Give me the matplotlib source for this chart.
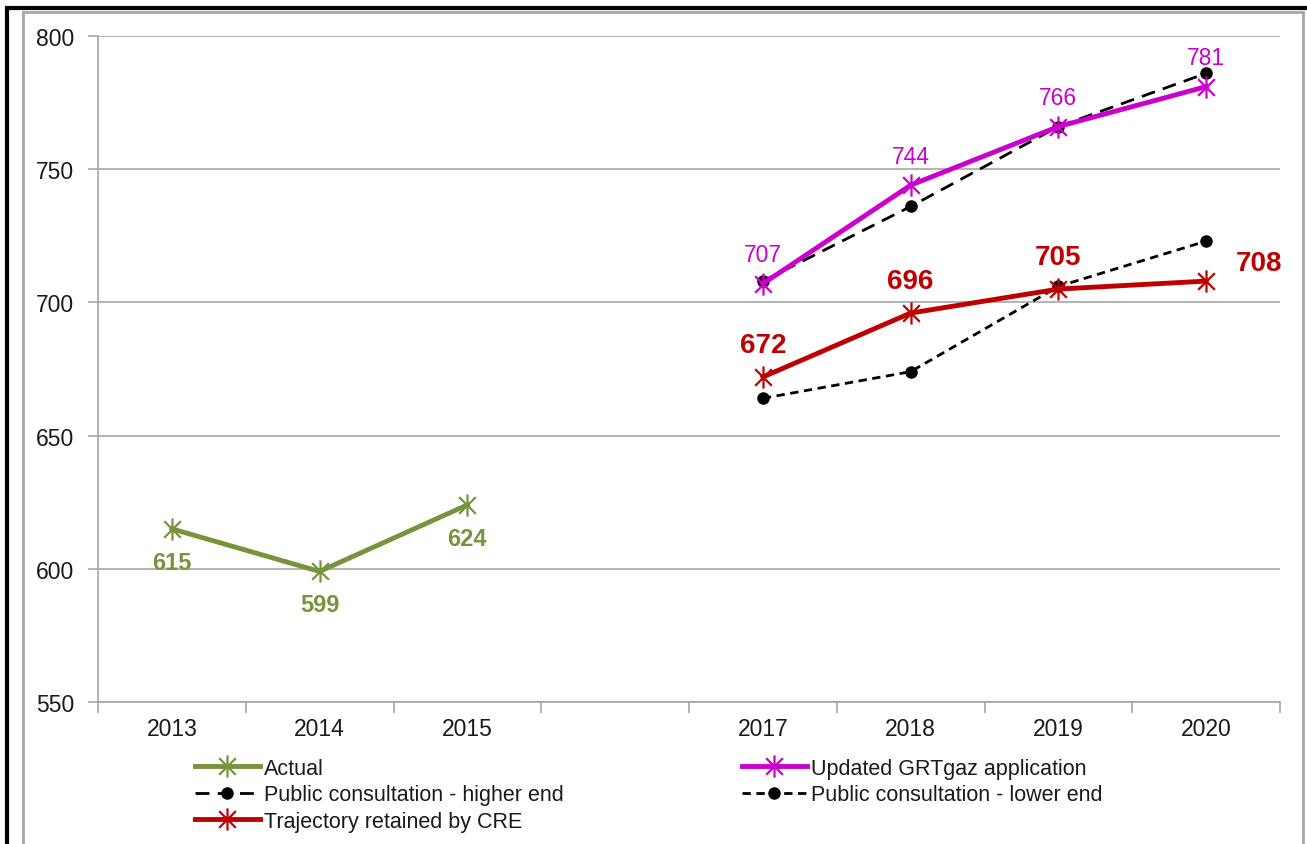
import numpy as np
import matplotlib.pyplot as plt
from matplotlib.path import Path
from matplotlib.patches import Rectangle

# categories (2016 slot left empty)
years = ['2013', '2014', '2015', '', '2017', '2018', '2019', '2020']
actual = [615, 599, 624]
grtgaz = [707, 744, 766, 781]
higher_end = [708, 736, 766, 786]
lower_end = [664, 674, 706, 723]
cre = [672, 696, 705, 708]

plt.rcParams['font.family'] = ['Liberation Sans', 'DejaVu Sans']

W, H = 1307, 845
fig = plt.figure(figsize=(W / 100, H / 100), dpi=100)
ax = fig.add_axes([98 / W, 1 - 703 / H, (1280 - 98) / W, (703 - 37) / H])

# Excel-like star marker: vertical bar + X
star = Path([(0, -1), (0, 1), (-0.75, -0.75), (0.75, 0.75), (-0.75, 0.75), (0.75, -0.75)],
            [Path.MOVETO, Path.LINETO, Path.MOVETO, Path.LINETO, Path.MOVETO, Path.LINETO])

x_act = np.arange(3)
x_fut = np.arange(4, 8)

green = '#77933c'
magenta = '#cc00cc'
red = '#c00000'

h_act, = ax.plot(x_act, actual, color=green, lw=3.5, marker=star, ms=16, mew=1.6,
                 mec=green, label='Actual', zorder=3)
h_hi, = ax.plot(x_fut, higher_end, color='black', lw=2, ls=(0, (5, 3)), marker='o', ms=8,
                label='Public consultation - higher end', zorder=3)
h_cre, = ax.plot(x_fut, cre, color=red, lw=3.5, marker=star, ms=16, mew=1.6,
                 mec=red, label='Trajectory retained by CRE', zorder=4)
h_grt, = ax.plot(x_fut, grtgaz, color=magenta, lw=3.5, marker=star, ms=16, mew=1.6,
                 mec=magenta, label='Updated GRTgaz application', zorder=4)
h_lo, = ax.plot(x_fut, lower_end, color='black', lw=2, ls=(0, (3, 2)), marker='o', ms=8,
                label='Public consultation - lower end', zorder=3)

# data labels
for x, v in zip(x_act, actual):
    ax.annotate(str(v), (x, v), xytext=(0, -24), textcoords='offset points',
                ha='center', va='center', color=green, fontsize=17, fontweight='bold')
for x, v in zip(x_fut, grtgaz):
    ax.annotate(str(v), (x, v), xytext=(0, 21), textcoords='offset points',
                ha='center', va='center', color=magenta, fontsize=16.5)
for i, (x, v) in enumerate(zip(x_fut, cre)):
    off = (38, 13) if i == 3 else (0, 23)
    ax.annotate(str(v), (x, v), xytext=off, textcoords='offset points',
                ha='center', va='center', color=red, fontsize=20, fontweight='bold')

ax.set_xlim(-0.5, 7.5)
ax.set_ylim(550, 800)
ax.set_yticks(np.arange(550, 801, 50))
ax.set_xticks(np.arange(8))
ax.set_xticklabels(years)
ax.set_xticks(np.arange(-0.5, 7.6, 1), minor=True)
ax.tick_params(axis='x', which='major', length=0, pad=11, labelsize=16.5, labelcolor='#1a1a1a')
ax.tick_params(axis='x', which='minor', length=8, color='#a6a6a6', width=1.2)
ax.tick_params(axis='y', length=7, color='#a6a6a6', width=1.2, pad=10,
               labelsize=16.5, labelcolor='#1a1a1a')
ax.grid(axis='y', color='#a6a6a6', lw=1.2)
ax.set_axisbelow(True)
for s in ['top', 'right']:
    ax.spines[s].set_visible(False)
for s in ['left', 'bottom']:
    ax.spines[s].set_color('#a6a6a6')
    ax.spines[s].set_linewidth(1.2)

# legend as two columns placed like the original
kw = dict(loc='upper left', frameon=False, handlelength=3.0, handletextpad=0.2,
          labelspacing=0.25, borderaxespad=0, borderpad=0,
          prop={'family': ['Liberation Sans Narrow', 'Liberation Sans'], 'size': 15.5})
leg1 = fig.legend([h_act, h_hi, h_cre], [h.get_label() for h in (h_act, h_hi, h_cre)],
                  bbox_to_anchor=(195 / W, 1 - 759 / H), **kw)
leg2 = fig.legend([h_grt, h_lo], [h.get_label() for h in (h_grt, h_lo)],
                  bbox_to_anchor=(742 / W, 1 - 759 / H), **kw)
for leg in (leg1, leg2):
    for t in leg.get_texts():
        t.set_color('#1a1a1a')

# outer frames
fig.patches.append(Rectangle((7 / W, -0.1), 1.2, 1 - 9 / H + 0.1, transform=fig.transFigure,
                             fill=False, ec='black', lw=3))
fig.patches.append(Rectangle((23 / W, -0.1), (1303 - 23) / W, 1 - 13 / H + 0.1,
                             transform=fig.transFigure, fill=False, ec='#a6a6a6', lw=2))

fig.savefig('out.png', dpi=100)
